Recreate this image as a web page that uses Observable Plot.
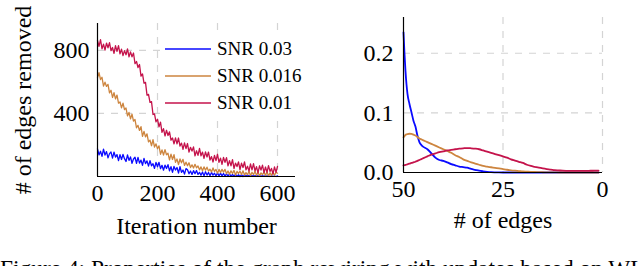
<!DOCTYPE html>
<html><head><meta charset="utf-8">
<script src="https://cdn.jsdelivr.net/npm/d3@7"></script>
<script src="https://cdn.jsdelivr.net/npm/@observablehq/plot@0.6"></script>
<style>
html,body{margin:0;padding:0;background:#fff;}
#fig{position:relative;width:640px;height:266px;overflow:hidden;font-family:"Liberation Serif","Times New Roman",serif;color:#000;}
#left,#right{position:absolute;top:0;}
#left{left:0;} #right{left:320px;}
#legend{position:absolute;left:160px;top:32px;background:#fff;}
#caption{position:absolute;left:0;top:256px;font-size:23.4px;line-height:24px;white-space:nowrap;}
</style></head><body>
<div id="fig"><div id="left"></div><div id="right"></div><div id="legend"></div>
<div id="caption">Figure 4: Properties of the graph rewiring with updates based on WL</div></div>
<script>
const seriesNames = ["SNR 0.03", "SNR 0.016", "SNR 0.01"];
const seriesColors = ["#0a0aff", "#cd853f", "#c4134b"];

const iterations = d3.range(0, 601, 5);
const removedSNR003 = [175,137,160,128,173,136,158,118,145,155,
116,155,123,139,101,139,108,140,113,95,
137,102,124,84,111,122,84,121,85,104,
71,115,82,99,66,101,68,81,51,89,
62,90,50,71,40,72,51,75,36,62,
26,64,41,57,21,62,26,41,15,50,
43,17,35,13,37,18,38,13,26,8,
29,4,30,9,25,5,26,8,21,3,
23,3,21,4,19,2,17,3,17,1,
13,1,14,1,11,0,12,0,9,1,
10,1,8,1,7,1,8,1,6,1,
5,1,6,1,5,0,4,1,3,0,
4];
const removedSNR0016 = [627,658,615,629,573,598,571,584,530,547,
501,531,492,516,465,473,435,465,424,434,
384,406,365,395,351,361,309,324,292,316,
255,286,251,270,219,231,195,233,187,207,
176,194,141,169,136,170,138,147,106,142,
108,139,90,111,75,111,87,109,70,91,
68,87,57,74,54,77,55,67,42,61,
36,61,40,59,34,46,29,54,32,45,
21,45,25,45,28,45,18,35,14,36,
19,39,9,32,19,34,12,36,9,25,
11,33,5,27,11,33,7,27,4,23,
11,28,6,30,3,24,7,26,8,27,
21];
const removedSNR001 = [862,825,868,810,839,802,846,816,848,798,
818,781,829,793,829,778,807,766,798,772,
809,758,790,759,783,716,729,691,710,636,
650,592,597,516,521,470,475,393,397,347,
363,315,345,280,303,257,293,260,283,230,
244,207,245,207,244,193,212,172,213,177,
209,155,185,161,188,131,163,134,178,131,
155,115,156,124,155,104,126,92,134,101,
141,90,116,77,121,90,120,67,101,68,
107,51,85,63,93,44,84,57,93,42,
65,34,80,42,82,35,62,23,68,41,
72,24,60,26,69,32,51,16,61,26,
64];
const leftXTicks = [0, 200, 400, 600];
const leftYTicks = [400, 800];
const leftXLabel = "Iteration number";
const leftYLabel = "# of edges removed";

const edgeGrid = [50,49.75,49.5,49.25,49,48.5,48,47.5,47,46.5,46,45.5,45,
44,43,42,41,40,39,38,37,36,35,34,33,32,31,30,29,28,27,26,25,24,23,22,21,20,
19,18,17,16,15,14,13,12,11,10,9,8,7,6,5,4,3,2,1];
const distSNR003 = [0.235,0.199,0.170,0.148,0.132,0.115,0.101,0.087,0.077,0.062,0.051,0.046,0.043,
0.039,0.032,0.025,0.021,0.0196,0.017,0.014,0.012,0.010,0.009,0.008,0.006,0.0045,0.003,0.002,0.0012,0.0006,0.0003,0.0001,
0,0,0,0,0,0,0,0,0,0,0,0,0,0,0,0,0,0,0,0,0,0,0,0,0];
const distSNR0016 = [0.059,0.061,0.063,0.064,0.0645,0.065,0.0648,0.0635,0.062,0.0595,0.057,0.0555,0.054,
0.051,0.048,0.045,0.042,0.039,0.036,0.033,0.029,0.026,0.022,0.0196,0.017,0.015,0.013,0.011,0.0098,0.0088,0.0078,0.0068,
0.0057,0.0046,0.0037,0.003,0.0024,0.0018,0.0014,0.001,0.0008,0.0006,0.0004,0.0003,0.0002,0.0001,
0,0,0,0,0,0,0,0,0,0,0];
const distSNR001 = [0.0118,0.0122,0.0127,0.0132,0.0137,0.0148,0.016,0.017,0.018,0.0195,0.021,0.0225,0.024,
0.027,0.030,0.032,0.034,0.0355,0.037,0.038,0.039,0.040,0.0406,0.041,0.0406,0.040,0.039,0.037,0.035,0.033,0.031,0.029,
0.027,0.025,0.022,0.020,0.018,0.016,0.013,0.011,0.0095,0.008,0.0068,0.0058,0.005,0.004,0.0035,0.003,0.0028,0.0027,
0.0027,0.0027,0.0027,0.0028,0.0029,0.003,0.0032];
const rightXTicks = [50, 25, 0];
const rightYTicks = [0, 0.1, 0.2];
const rightXLabel = "# of edges";

const removedSeries = [removedSNR003, removedSNR0016, removedSNR001];
const distSeries = [distSNR003, distSNR0016, distSNR001];
const leftData = [];
seriesNames.forEach((name, s) => removedSeries[s].forEach((v, i) => leftData.push({iter: iterations[i], value: v, series: name})));
const rightData = [];
seriesNames.forEach((name, s) => distSeries[s].forEach((v, i) => rightData.push({edges: edgeGrid[i], value: v, series: name})));

const serifFont = "Liberation Serif, Times New Roman, serif";
const gridStyle = {stroke: "#d4d4d4", strokeOpacity: 1, strokeDasharray: "7,7", strokeWidth: 1.2};
const colorScale = {domain: seriesNames, range: seriesColors};
const labelText = {text: d => d, fontSize: 24, textAnchor: "middle", lineAnchor: "middle"};

const left = Plot.plot({
  width: 320, height: 240,
  marginLeft: 97, marginRight: 25, marginTop: 23, marginBottom: 64,
  style: {fontFamily: serifFont, fontSize: "24px", background: "transparent", overflow: "visible", color: "#000"},
  x: {domain: [0, 660]},
  y: {domain: [0, 970]},
  color: colorScale,
  marks: [
    Plot.gridX([200, 400, 600], gridStyle),
    Plot.gridY(leftYTicks, gridStyle),
    Plot.lineY(leftData, {x: "iter", y: "value", stroke: "series", strokeWidth: 1.3}),
    Plot.ruleX([0], {stroke: "#000", strokeWidth: 1.2}),
    Plot.ruleY([0], {stroke: "#000", strokeWidth: 1.2}),
    Plot.axisX({ticks: leftXTicks, tickSize: 0, tickPadding: 7, label: null}),
    Plot.axisY({ticks: leftYTicks, tickSize: 0, tickPadding: 8, label: null}),
    Plot.text([leftXLabel], {...labelText, frameAnchor: "bottom", dy: 50}),
    Plot.text([leftYLabel], {...labelText, frameAnchor: "left", rotate: -90, dx: -74})
  ]
});
document.getElementById("left").appendChild(left);

const right = Plot.plot({
  width: 320, height: 240,
  marginLeft: 83, marginRight: 38, marginTop: 17, marginBottom: 68,
  style: {fontFamily: serifFont, fontSize: "24px", background: "transparent", overflow: "visible", color: "#000"},
  x: {domain: [50, 0]},
  y: {domain: [0, 0.26]},
  color: colorScale,
  marks: [
    Plot.gridX([25, 0], gridStyle),
    Plot.gridY([0.1, 0.2], gridStyle),
    Plot.lineY(rightData, {x: "edges", y: "value", stroke: "series", strokeWidth: 1.8, curve: "monotone-x"}),
    Plot.ruleX([50], {stroke: "#000", strokeWidth: 1.2}),
    Plot.ruleY([0], {stroke: "#000", strokeWidth: 1.2}),
    Plot.axisX({ticks: rightXTicks, tickSize: 0, tickPadding: 7, label: null}),
    Plot.axisY({ticks: rightYTicks, tickSize: 0, tickPadding: 10, tickFormat: d3.format(".1f"), label: null}),
    Plot.text([rightXLabel], {...labelText, frameAnchor: "bottom", dy: 48})
  ]
});
document.getElementById("right").appendChild(right);

// legend inside the left panel
const lg = d3.select("#legend").append("svg").attr("width", 148).attr("height", 88)
  .style("display", "block");
seriesNames.forEach((name, i) => {
  const y = 17 + i * 27;
  lg.append("line").attr("x1", 5).attr("x2", 51).attr("y1", y).attr("y2", y)
    .attr("stroke", seriesColors[i]).attr("stroke-width", 1.6);
  lg.append("text").attr("x", 57).attr("y", y).attr("dy", "0.33em")
    .attr("font-family", serifFont).attr("font-size", 19).text(name);
});
</script>
</body></html>
